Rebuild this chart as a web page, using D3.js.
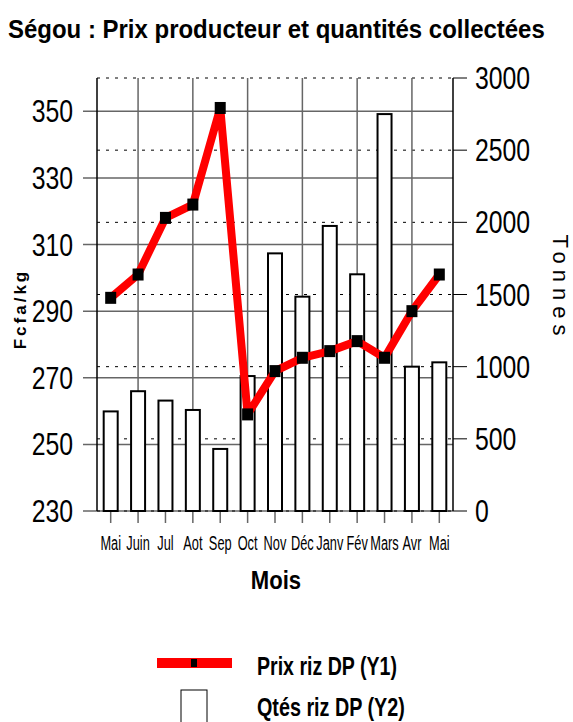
<!DOCTYPE html>
<html lang="fr">
<head>
    <meta charset="utf-8">
    <title>Ségou : Prix producteur et quantités collectées</title>
    <script type="text/javascript" src="https://cdn.jsdelivr.net/npm/d3@7"></script>
    <style type="text/css">
        body { margin: 0; background: #fff; }
        svg { display: block; font-family: "Liberation Sans", Arial, sans-serif; }
    </style>
</head>
<body>
<script type="text/javascript">

    // data
    var months = ["Mai", "Juin", "Jul", "Aot", "Sep", "Oct", "Nov", "Déc", "Janv", "Fév", "Mars", "Avr", "Mai"];
    var prix = [294, 301, 318, 322, 351, 259, 272, 276, 278, 281, 276, 290, 301];      // Fcfa/kg (Y1)
    var qtes = [690, 830, 765, 700, 430, 935, 1785, 1485, 1975, 1640, 2750, 1000, 1030]; // Tonnes (Y2)
    var leftTicks = [230, 250, 270, 290, 310, 330, 350];
    var rightTicks = [0, 500, 1000, 1500, 2000, 2500, 3000];

    var w = 573, h = 722;
    var plotL = 97, plotR = 453, plotT = 78, plotB = 511;

    var svg = d3.select("body").append("svg")
        .attr("width", w)
        .attr("height", h);

    // narrow the lettering with a horizontal scale (k), or fit to a width
    function squeeze(sel, k, width) {
        sel.each(function () {
            var t = d3.select(this);
            var x = +t.attr("x"), y = +t.attr("y");
            var f = width ? width / this.getComputedTextLength() : k;
            t.attr("x", 0).attr("y", 0)
                .attr("transform", "translate(" + x + "," + y + ") scale(" + f + ",1)");
        });
    }

    var xScale = d3.scaleBand()
        .domain(d3.range(months.length))
        .range([plotL, plotR])
        .padding(0);

    var yLeft = d3.scaleLinear().domain([230, 360]).range([plotB, plotT]);
    var yRight = d3.scaleLinear().domain([0, 3000]).range([plotB, plotT]);

    function cx(i) { return xScale(i) + xScale.bandwidth() / 2; }

    //Title
    svg.append("text")
        .attr("x", 8)
        .attr("y", 38)
        .attr("font-size", "26px")
        .attr("font-weight", "bold")
        .text("Ségou : Prix producteur et quantités collectées")
        .call(squeeze, 1, 537);

    // solid grid at left ticks
    svg.selectAll("line.gl")
        .data(leftTicks)
        .enter()
        .append("line")
        .attr("class", "gl")
        .attr("x1", plotL - 14)
        .attr("x2", plotR)
        .attr("y1", function (d) { return yLeft(d); })
        .attr("y2", function (d) { return yLeft(d); })
        .attr("stroke", "#666")
        .attr("stroke-width", 1.5);

    // dashed grid at right ticks
    svg.selectAll("line.gr")
        .data(rightTicks)
        .enter()
        .append("line")
        .attr("class", "gr")
        .attr("x1", plotL)
        .attr("x2", plotR)
        .attr("y1", function (d) { return yRight(d); })
        .attr("y2", function (d) { return yRight(d); })
        .attr("stroke", "#000")
        .attr("stroke-width", 1)
        .attr("stroke-dasharray", "3,6");

    // right ticks
    svg.selectAll("line.tr")
        .data(rightTicks)
        .enter()
        .append("line")
        .attr("class", "tr")
        .attr("x1", plotR)
        .attr("x2", plotR + 14)
        .attr("y1", function (d) { return yRight(d); })
        .attr("y2", function (d) { return yRight(d); })
        .attr("stroke", "#000")
        .attr("stroke-width", 1);

    // vertical grid every other month
    var vgrid = d3.range(months.length).filter(function (i) { return i % 2 === 1; });
    svg.selectAll("line.gv")
        .data(vgrid)
        .enter()
        .append("line")
        .attr("class", "gv")
        .attr("x1", function (i) { return cx(i); })
        .attr("x2", function (i) { return cx(i); })
        .attr("y1", plotT)
        .attr("y2", plotB)
        .attr("stroke", "#666")
        .attr("stroke-width", 1.5);

    // month ticks
    svg.selectAll("line.tx")
        .data(d3.range(months.length))
        .enter()
        .append("line")
        .attr("class", "tx")
        .attr("x1", function (i) { return cx(i); })
        .attr("x2", function (i) { return cx(i); })
        .attr("y1", plotB)
        .attr("y2", plotB + 12)
        .attr("stroke", "#666")
        .attr("stroke-width", 1.5);

    // axes lines
    svg.append("line")
        .attr("x1", plotL).attr("x2", plotL)
        .attr("y1", plotT).attr("y2", plotB)
        .attr("stroke", "#000").attr("stroke-width", 1.5);
    svg.append("line")
        .attr("x1", plotR).attr("x2", plotR)
        .attr("y1", plotT).attr("y2", plotB)
        .attr("stroke", "#000").attr("stroke-width", 1.5);

    // bars (Y2)
    svg.selectAll("rect.bar")
        .data(qtes)
        .enter()
        .append("rect")
        .attr("class", "bar")
        .attr("x", function (d, i) { return cx(i) - 7; })
        .attr("y", function (d) { return yRight(d); })
        .attr("width", 14)
        .attr("height", function (d) { return plotB - yRight(d); })
        .attr("fill", "#fff")
        .attr("stroke", "#000")
        .attr("stroke-width", 2);

    // price line (Y1)
    var line = d3.line()
        .x(function (d, i) { return cx(i); })
        .y(function (d) { return yLeft(d); });

    svg.append("path")
        .datum(prix)
        .attr("d", line)
        .attr("fill", "none")
        .attr("stroke", "#ff0000")
        .attr("stroke-width", 8)
        .attr("stroke-linejoin", "round");

    svg.selectAll("rect.mark")
        .data(prix)
        .enter()
        .append("rect")
        .attr("class", "mark")
        .attr("x", function (d, i) { return cx(i) - 5.5; })
        .attr("y", function (d) { return yLeft(d) - 6; })
        .attr("width", 11)
        .attr("height", 12)
        .attr("fill", "#000");

    // left tick labels
    svg.selectAll("text.yl")
        .data(leftTicks)
        .enter()
        .append("text")
        .attr("class", "yl")
        .attr("x", 73)
        .attr("y", function (d) { return yLeft(d) + 11; })
        .attr("text-anchor", "end")
        .attr("font-size", "31px")
        .text(function (d) { return d; })
        .call(squeeze, 0.8);

    // right tick labels
    svg.selectAll("text.yr")
        .data(rightTicks)
        .enter()
        .append("text")
        .attr("class", "yr")
        .attr("x", 475)
        .attr("y", function (d) { return yRight(d) + 11; })
        .attr("font-size", "31px")
        .text(function (d) { return d; })
        .call(squeeze, 0.8);

    // month labels
    svg.selectAll("text.xl")
        .data(months)
        .enter()
        .append("text")
        .attr("class", "xl")
        .attr("x", function (d, i) { return cx(i); })
        .attr("y", 550)
        .attr("text-anchor", "middle")
        .attr("font-size", "20px")
        .text(function (d) { return d; })
        .call(squeeze, 0.64);

    // axis titles
    svg.append("text")
        .attr("x", 276)
        .attr("y", 589)
        .attr("text-anchor", "middle")
        .attr("font-size", "26px")
        .attr("font-weight", "bold")
        .text("Mois")
        .call(squeeze, 0.85);

    svg.append("text")
        .attr("transform", "translate(26,309) rotate(-90)")
        .attr("text-anchor", "middle")
        .attr("font-size", "17px")
        .attr("font-weight", "bold")
        .attr("letter-spacing", "3px")
        .text("Fcfa/kg");

    svg.append("text")
        .attr("transform", "translate(553,288) rotate(90)")
        .attr("text-anchor", "middle")
        .attr("font-size", "22px")
        .attr("letter-spacing", "6px")
        .text("Tonnes");

    // legend
    svg.append("line")
        .attr("x1", 157).attr("x2", 232)
        .attr("y1", 663).attr("y2", 663)
        .attr("stroke", "#ff0000")
        .attr("stroke-width", 10);
    svg.append("rect")
        .attr("x", 191).attr("y", 659)
        .attr("width", 6).attr("height", 8)
        .attr("fill", "#000");
    svg.append("rect")
        .attr("x", 181).attr("y", 690)
        .attr("width", 26).attr("height", 40)
        .attr("fill", "#fff")
        .attr("stroke", "#000")
        .attr("stroke-width", 1);

    svg.append("text")
        .attr("x", 257)
        .attr("y", 675)
        .attr("font-size", "26px")
        .attr("font-weight", "bold")
        .text("Prix riz DP (Y1)")
        .call(squeeze, 1, 140);

    svg.append("text")
        .attr("x", 257)
        .attr("y", 716)
        .attr("font-size", "26px")
        .attr("font-weight", "bold")
        .text("Qtés riz DP (Y2)")
        .call(squeeze, 1, 148);

</script>
</body>
</html>
